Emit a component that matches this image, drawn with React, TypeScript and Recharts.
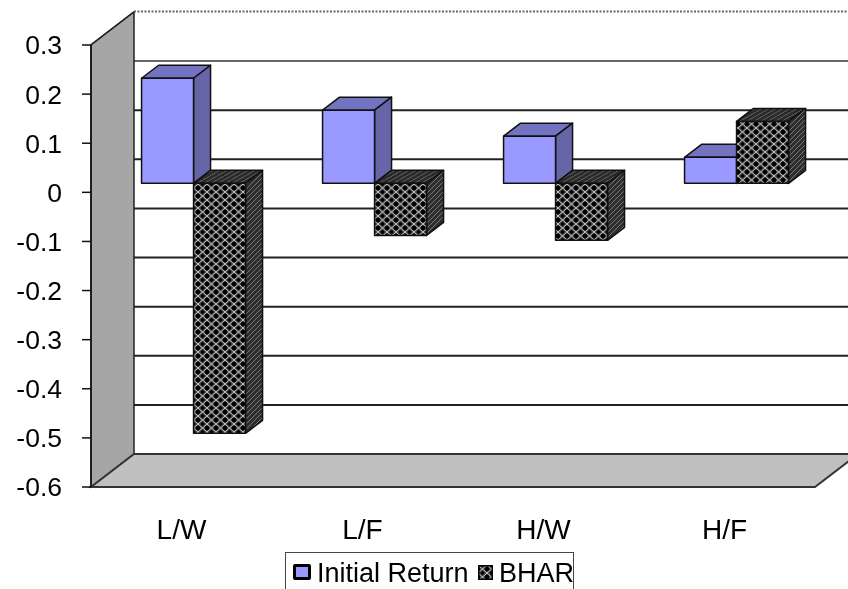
import { BarChart, Bar, XAxis, YAxis, CartesianGrid, Legend, ReferenceArea } from 'recharts';

const categories = ['L/W', 'L/F', 'H/W', 'H/F'];
const initialReturn = [0.214, 0.149, 0.096, 0.053];
const bhar = [-0.509, -0.106, -0.116, 0.126];
const yTicks = [0.3, 0.2, 0.1, 0, -0.1, -0.2, -0.3, -0.4, -0.5, -0.6];

const rows = categories.map((name, i) => ({ name, initial: initialReturn[i], bhar: bhar[i] }));

// fake 3D: the back wall sits this far behind the axis plane
const WALL_DX = 43;
const WALL_DY = -33;
// bars stand in the middle of the floor
const BAR_DX = 12;
const BAR_DY = -9;
const BOX_DX = 17;
const BOX_DY = -13;

function Walls({ x, y, width, height }: any) {
  const bottom = y + height;
  return (
    <g>
      <polygon
        points={`${x},${y} ${x + WALL_DX},${y + WALL_DY} ${x + WALL_DX},${bottom + WALL_DY} ${x},${bottom}`}
        fill="#a6a6a6"
        stroke="#222"
        strokeWidth={1.5}
      />
      <polygon
        points={`${x},${bottom} ${x + WALL_DX},${bottom + WALL_DY} ${x + width + WALL_DX},${bottom + WALL_DY} ${x + width},${bottom}`}
        fill="#c0c0c0"
        stroke="#333"
        strokeWidth={2}
      />
      <line x1={x + WALL_DX} y1={y + WALL_DY - 0.5} x2={x + width + WALL_DX} y2={y + WALL_DY - 0.5} stroke="#666" strokeWidth={2} strokeDasharray="2 1.5" />
    </g>
  );
}

function GridLine({ x1, y1, x2, y2, index }: any) {
  // first line under the top edge is paler in the original
  const pale = y1 > 90 && y1 < 100;
  return (
    <g key={index}>
      <line x1={x1} y1={y1} x2={x1 + WALL_DX} y2={y1 + WALL_DY} stroke="#111" strokeWidth={1.6} />
      {y1 > 50 && y1 < 480 && (
        <line x1={x1 + WALL_DX} y1={y1 + WALL_DY} x2={x2 + WALL_DX} y2={y2 + WALL_DY} stroke={pale ? '#666' : '#222'} strokeWidth={2} />
      )}
    </g>
  );
}

function Box({ x, y, width, height, front, top, side }: any) {
  // negative values come with a negative height
  const left = x + BAR_DX;
  const right = left + width;
  const t = Math.min(y, y + height) + BAR_DY;
  const h = Math.abs(height);
  const b = t + h;
  return (
    <g stroke="#111" strokeWidth={1.5} strokeLinejoin="round">
      <polygon points={`${left},${t} ${right},${t} ${right + BOX_DX},${t + BOX_DY} ${left + BOX_DX},${t + BOX_DY}`} fill={top} />
      <polygon points={`${right},${t} ${right + BOX_DX},${t + BOX_DY} ${right + BOX_DX},${b + BOX_DY} ${right},${b}`} fill={side} />
      <rect x={left} y={t} width={width} height={h} fill={front} />
    </g>
  );
}

function InitialBox(props: any) {
  return <Box {...props} front="#9999ff" top="#7373c2" side="#6565a8" />;
}

function BharBox(props: any) {
  return <Box {...props} front="url(#lattice)" top="url(#latticeTop)" side="url(#latticeSide)" />;
}

function LegendBox() {
  const text = { fontFamily: 'Liberation Sans', fontSize: 27, color: '#000', lineHeight: '34px', whiteSpace: 'nowrap' } as const;
  return (
    <div style={{ width: 289, height: 40, border: '1px solid #444', boxSizing: 'border-box', overflow: 'hidden', position: 'relative', background: '#fff' }}>
      <span style={{ position: 'absolute', left: 7, top: 11, width: 12, height: 10, background: '#9999ff', border: '3.5px solid #000', borderRadius: 2 }} />
      <span style={{ ...text, position: 'absolute', left: 31, top: 3 }}>Initial Return</span>
      <svg width={15} height={15} style={{ position: 'absolute', left: 192, top: 12 }}>
        <rect width={15} height={15} fill="url(#lattice)" stroke="#000" strokeWidth={3} />
      </svg>
      <span style={{ ...text, position: 'absolute', left: 213, top: 3 }}>BHAR</span>
    </div>
  );
}

export default function App() {
  return (
    <div style={{ position: 'absolute', left: 0, top: 0, width: 848, height: 589, overflow: 'hidden', background: '#fff', filter: 'blur(0.6px)' }}>
      <BarChart
        width={848}
        height={589}
        data={rows}
        margin={{ top: 45, right: 33, bottom: 0, left: 0 }}
        barCategoryGap="21.3%"
        barGap={0}
      >
        <defs>
          <pattern id="lattice" width={9} height={8} patternUnits="userSpaceOnUse">
            <rect width={9} height={8} fill="#3c3c3c" />
            <path d="M0 0L9 8M9 0L0 8" stroke="#c4c4c4" strokeWidth={1} />
            <circle cx={0} cy={4} r={2.2} fill="#000" />
            <circle cx={9} cy={4} r={2.2} fill="#000" />
            <circle cx={4.5} cy={0} r={1.8} fill="#000" />
            <circle cx={4.5} cy={8} r={1.8} fill="#000" />
          </pattern>
          <pattern id="latticeSide" width={5} height={5} patternUnits="userSpaceOnUse">
            <rect width={5} height={5} fill="#2e2e2e" />
            <path d="M0 5L5 0" stroke="#777" strokeWidth={1} />
          </pattern>
          <pattern id="latticeTop" width={7} height={4} patternUnits="userSpaceOnUse">
            <rect width={7} height={4} fill="#2a2a2a" />
            <path d="M0 4L7 0" stroke="#606060" strokeWidth={1} />
          </pattern>
        </defs>
        <ReferenceArea y1={-0.6} y2={0.3} shape={Walls} ifOverflow="visible" />
        <CartesianGrid vertical={false} horizontalValues={yTicks} horizontal={GridLine} />
        <XAxis
          dataKey="name"
          height={102}
          axisLine={false}
          tickLine={false}
          tickMargin={26}
          interval={0}
          tick={{ fill: '#000', fontFamily: 'Liberation Sans', fontSize: 28 }}
        />
        <YAxis
          type="number"
          domain={[-0.6, 0.3]}
          ticks={yTicks}
          interval={0}
          width={91}
          axisLine={{ stroke: '#111', strokeWidth: 1.5 }}
          tickLine={{ stroke: '#111', strokeWidth: 1.5 }}
          tickSize={9}
          tickMargin={20}
          tick={{ fill: '#000', fontFamily: 'Liberation Sans', fontSize: 26.5 }}
        />
        <Legend
          verticalAlign="middle"
          align="center"
          content={LegendBox}
          wrapperStyle={{ position: 'absolute', left: 285, top: 552, width: 289, height: 40, bottom: 'auto', right: 'auto' }}
        />
        <Bar dataKey="initial" name="Initial Return" fill="#9999ff" shape={InitialBox} isAnimationActive={false} />
        <Bar dataKey="bhar" name="BHAR" fill="#333" shape={BharBox} isAnimationActive={false} />
      </BarChart>
    </div>
  );
}
